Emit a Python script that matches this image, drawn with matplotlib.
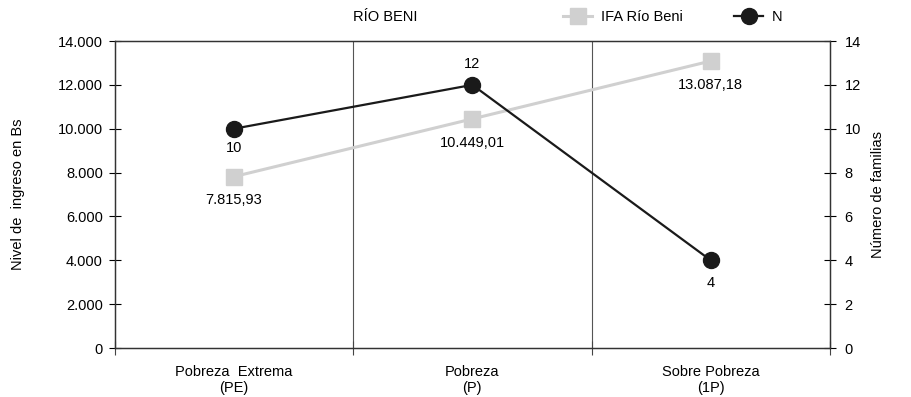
import numpy as np
import matplotlib
matplotlib.use("Agg")
import matplotlib.pyplot as plt
from matplotlib.lines import Line2D

plt.rcParams['font.family'] = ['Liberation Sans', 'DejaVu Sans']
plt.rcParams['font.size'] = 10.5

categorias = ["Pobreza  Extrema\n(PE)", "Pobreza\n(P)", "Sobre Pobreza\n(1P)"]
ingreso = [7815.93, 10449.01, 13087.18]
familias = [10, 12, 4]
etiquetas_ingreso = ["7.815,93", "10.449,01", "13.087,18"]

gris = "#d0d0d0"
negro = "#1a1a1a"

fig = plt.figure(figsize=(9.11, 3.97), dpi=100)
ax = fig.add_axes([0.126, 0.1234, 0.785, 0.7733])
ax2 = ax.twinx()

x = np.arange(len(categorias)) + 0.5

ax.plot(x, ingreso, color=gris, lw=2.2, marker="s", ms=11, zorder=3)
ax2.plot(x, familias, color=negro, lw=1.6, marker="o", ms=11.5, zorder=3)

# etiquetas de datos
for xi, yi, t in zip(x, ingreso, etiquetas_ingreso):
    ax.annotate(t, (xi, yi), xytext=(0, -12), textcoords="offset points",
                ha="center", va="top")
offs = [-9, 10, -11]
for xi, yi, o in zip(x, familias, offs):
    ax2.annotate(str(yi), (xi, yi), xytext=(0, o), textcoords="offset points",
                 ha="center", va="bottom" if o > 0 else "top")

ax.set_xlim(0, 3)
ax.set_ylim(0, 14000)
ax2.set_ylim(0, 14)
ax.set_yticks(np.arange(0, 14001, 2000))
ax.set_yticklabels(["0"] + [f"{v:,}".replace(",", ".") for v in range(2000, 14001, 2000)])
ax2.set_yticks(np.arange(0, 15, 2))

ax.set_xticks([0, 1, 2, 3])
ax.set_xticklabels([])
ax.set_xticks(x, minor=True)
ax.set_xticklabels(categorias, minor=True)
ax.tick_params(axis="x", which="minor", length=0, pad=12)
ax.tick_params(axis="x", which="major", direction="inout", length=10, width=0.8, color="#444444")
ax.tick_params(axis="y", direction="inout", length=9, width=0.8, pad=4)
ax2.tick_params(axis="y", direction="inout", length=9, width=0.8, pad=6)

for xv in [1, 2]:
    ax.axvline(xv, color="#555555", lw=0.8, zorder=1)

for a in (ax, ax2):
    for s in a.spines.values():
        s.set_color("#333333")
        s.set_linewidth(0.9)

ax.set_ylabel("Nivel de  ingreso en Bs")
ax2.set_ylabel("Número de familias")
ax.yaxis.set_label_coords(-0.125, 0.5)
ax2.yaxis.set_label_coords(1.057, 0.5)

fig.text(385 / 911, 1 - 17 / 397, "RÍO BENI", ha="center", va="center")
handles = [
    Line2D([], [], color=gris, lw=2.2, marker="s", ms=11),
    Line2D([], [], color=negro, lw=1.6, marker="o", ms=11.5),
]
fig.legend(handles, ["IFA Río Beni", "N"], ncol=2, frameon=False,
           loc="center left", bbox_to_anchor=(550 / 911, 1 - 17 / 397),
           handlelength=2.0, handletextpad=0.6, columnspacing=3.5)

fig.savefig("out.png", dpi=100)
